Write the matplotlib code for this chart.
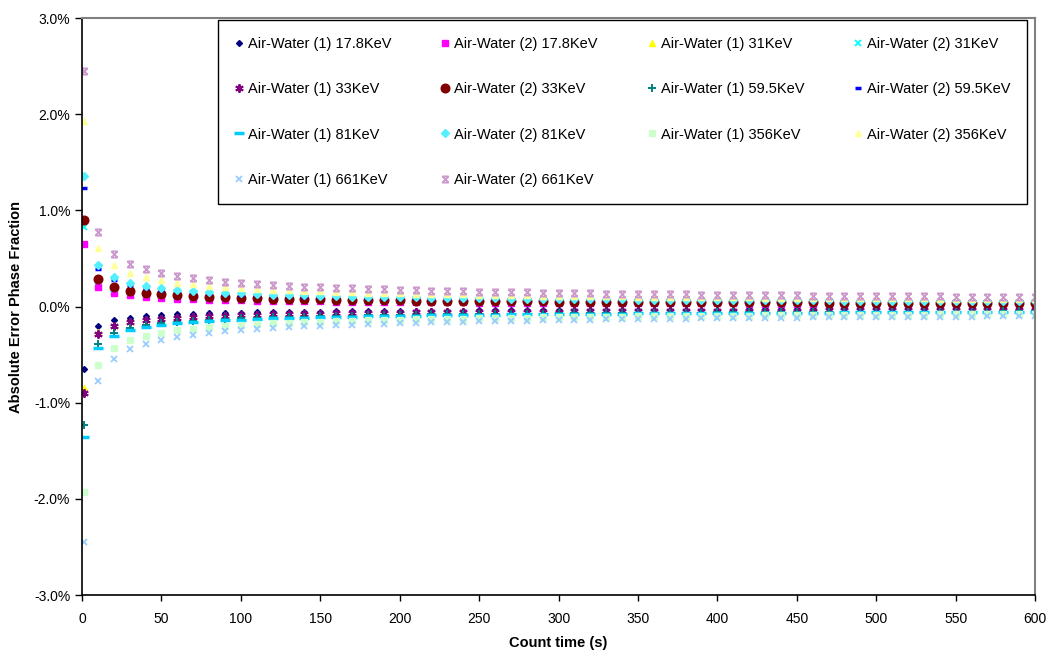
import numpy as np
import matplotlib.pyplot as plt
from matplotlib.path import Path
from matplotlib.ticker import FuncFormatter, MultipleLocator

plt.rcParams['font.family'] = ['Liberation Sans', 'DejaVu Sans']

# tempos de contagem (s)
count_time = [1] + list(range(10, 610, 10))

# erro absoluto (%) - série (1) negativa, série (2) positiva
aw1_17_8 = [-0.645, -0.204, -0.144, -0.118, -0.102, -0.091, -0.083, -0.077, -0.072, -0.068,
            -0.065, -0.062, -0.059, -0.057, -0.055, -0.053, -0.051, -0.049, -0.048, -0.047,
            -0.046, -0.045, -0.043, -0.043, -0.042, -0.041, -0.040, -0.039, -0.039, -0.038,
            -0.037, -0.037, -0.036, -0.036, -0.035, -0.034, -0.034, -0.034, -0.033, -0.033,
            -0.032, -0.032, -0.031, -0.031, -0.031, -0.030, -0.030, -0.030, -0.029, -0.029,
            -0.029, -0.029, -0.028, -0.028, -0.028, -0.028, -0.027, -0.027, -0.027, -0.027,
            -0.026]
aw2_17_8 = [0.645, 0.204, 0.144, 0.118, 0.102, 0.091, 0.083, 0.077, 0.072, 0.068,
            0.065, 0.062, 0.059, 0.057, 0.055, 0.053, 0.051, 0.049, 0.048, 0.047,
            0.046, 0.045, 0.043, 0.043, 0.042, 0.041, 0.040, 0.039, 0.039, 0.038,
            0.037, 0.037, 0.036, 0.036, 0.035, 0.034, 0.034, 0.034, 0.033, 0.033,
            0.032, 0.032, 0.031, 0.031, 0.031, 0.030, 0.030, 0.030, 0.029, 0.029,
            0.029, 0.029, 0.028, 0.028, 0.028, 0.028, 0.027, 0.027, 0.027, 0.027,
            0.026]
aw1_31 = [-0.850, -0.269, -0.190, -0.155, -0.134, -0.120, -0.110, -0.102, -0.095, -0.090,
          -0.085, -0.081, -0.078, -0.075, -0.072, -0.069, -0.067, -0.065, -0.063, -0.062,
          -0.060, -0.059, -0.057, -0.056, -0.055, -0.054, -0.053, -0.052, -0.051, -0.050,
          -0.049, -0.048, -0.048, -0.047, -0.046, -0.045, -0.045, -0.044, -0.044, -0.043,
          -0.043, -0.042, -0.041, -0.041, -0.041, -0.040, -0.040, -0.039, -0.039, -0.038,
          -0.038, -0.038, -0.037, -0.037, -0.037, -0.036, -0.036, -0.036, -0.035, -0.035,
          -0.035]
aw2_31 = [0.830, 0.263, 0.186, 0.152, 0.131, 0.117, 0.107, 0.099, 0.093, 0.087,
          0.083, 0.079, 0.076, 0.073, 0.070, 0.068, 0.066, 0.064, 0.062, 0.060,
          0.059, 0.057, 0.056, 0.055, 0.054, 0.052, 0.051, 0.051, 0.050, 0.049,
          0.048, 0.047, 0.046, 0.046, 0.045, 0.044, 0.044, 0.043, 0.043, 0.042,
          0.042, 0.041, 0.041, 0.040, 0.040, 0.039, 0.039, 0.038, 0.038, 0.037,
          0.037, 0.037, 0.036, 0.036, 0.036, 0.035, 0.035, 0.035, 0.034, 0.034,
          0.034]
aw1_33 = [-0.895, -0.283, -0.200, -0.163, -0.142, -0.127, -0.116, -0.107, -0.100, -0.094,
          -0.090, -0.085, -0.082, -0.079, -0.076, -0.073, -0.071, -0.069, -0.067, -0.065,
          -0.063, -0.062, -0.060, -0.059, -0.058, -0.057, -0.056, -0.054, -0.053, -0.053,
          -0.052, -0.051, -0.050, -0.049, -0.049, -0.048, -0.047, -0.047, -0.046, -0.045,
          -0.045, -0.044, -0.044, -0.043, -0.043, -0.042, -0.042, -0.041, -0.041, -0.040,
          -0.040, -0.040, -0.039, -0.039, -0.039, -0.038, -0.038, -0.037, -0.037, -0.037,
          -0.037]
aw2_33 = [0.895, 0.283, 0.200, 0.163, 0.142, 0.127, 0.116, 0.107, 0.100, 0.094,
          0.090, 0.085, 0.082, 0.079, 0.076, 0.073, 0.071, 0.069, 0.067, 0.065,
          0.063, 0.062, 0.060, 0.059, 0.058, 0.057, 0.056, 0.054, 0.053, 0.053,
          0.052, 0.051, 0.050, 0.049, 0.049, 0.048, 0.047, 0.047, 0.046, 0.045,
          0.045, 0.044, 0.044, 0.043, 0.043, 0.042, 0.042, 0.041, 0.041, 0.040,
          0.040, 0.040, 0.039, 0.039, 0.039, 0.038, 0.038, 0.037, 0.037, 0.037,
          0.037]
aw1_59_5 = [-1.235, -0.391, -0.276, -0.225, -0.195, -0.175, -0.159, -0.148, -0.138, -0.130,
            -0.124, -0.118, -0.113, -0.108, -0.104, -0.101, -0.098, -0.095, -0.092, -0.090,
            -0.087, -0.085, -0.083, -0.081, -0.080, -0.078, -0.077, -0.075, -0.074, -0.073,
            -0.071, -0.070, -0.069, -0.068, -0.067, -0.066, -0.065, -0.064, -0.063, -0.063,
            -0.062, -0.061, -0.060, -0.060, -0.059, -0.058, -0.058, -0.057, -0.056, -0.056,
            -0.055, -0.055, -0.054, -0.054, -0.053, -0.053, -0.052, -0.052, -0.051, -0.051,
            -0.050]
aw2_59_5 = [1.235, 0.391, 0.276, 0.225, 0.195, 0.175, 0.159, 0.148, 0.138, 0.130,
            0.124, 0.118, 0.113, 0.108, 0.104, 0.101, 0.098, 0.095, 0.092, 0.090,
            0.087, 0.085, 0.083, 0.081, 0.080, 0.078, 0.077, 0.075, 0.074, 0.073,
            0.071, 0.070, 0.069, 0.068, 0.067, 0.066, 0.065, 0.064, 0.063, 0.063,
            0.062, 0.061, 0.060, 0.060, 0.059, 0.058, 0.058, 0.057, 0.056, 0.056,
            0.055, 0.055, 0.054, 0.054, 0.053, 0.053, 0.052, 0.052, 0.051, 0.051,
            0.050]
aw1_81 = [-1.355, -0.428, -0.303, -0.247, -0.214, -0.192, -0.175, -0.162, -0.151, -0.143,
          -0.136, -0.129, -0.124, -0.119, -0.115, -0.111, -0.107, -0.104, -0.101, -0.098,
          -0.096, -0.094, -0.091, -0.089, -0.087, -0.086, -0.084, -0.082, -0.081, -0.080,
          -0.078, -0.077, -0.076, -0.075, -0.073, -0.072, -0.071, -0.070, -0.070, -0.069,
          -0.068, -0.067, -0.066, -0.065, -0.065, -0.064, -0.063, -0.063, -0.062, -0.061,
          -0.061, -0.060, -0.059, -0.059, -0.058, -0.058, -0.057, -0.057, -0.056, -0.056,
          -0.055]
aw2_81 = [1.355, 0.428, 0.303, 0.247, 0.214, 0.192, 0.175, 0.162, 0.151, 0.143,
          0.136, 0.129, 0.124, 0.119, 0.115, 0.111, 0.107, 0.104, 0.101, 0.098,
          0.096, 0.094, 0.091, 0.089, 0.087, 0.086, 0.084, 0.082, 0.081, 0.080,
          0.078, 0.077, 0.076, 0.075, 0.073, 0.072, 0.071, 0.070, 0.070, 0.069,
          0.068, 0.067, 0.066, 0.065, 0.065, 0.064, 0.063, 0.063, 0.062, 0.061,
          0.061, 0.060, 0.059, 0.059, 0.058, 0.058, 0.057, 0.057, 0.056, 0.056,
          0.055]
aw1_356 = [-1.930, -0.610, -0.432, -0.352, -0.305, -0.273, -0.249, -0.231, -0.216, -0.203,
           -0.193, -0.184, -0.176, -0.169, -0.163, -0.158, -0.153, -0.148, -0.144, -0.140,
           -0.136, -0.133, -0.130, -0.127, -0.125, -0.122, -0.120, -0.117, -0.115, -0.113,
           -0.111, -0.110, -0.108, -0.106, -0.105, -0.103, -0.102, -0.100, -0.099, -0.098,
           -0.097, -0.095, -0.094, -0.093, -0.092, -0.091, -0.090, -0.089, -0.088, -0.087,
           -0.086, -0.085, -0.085, -0.084, -0.083, -0.082, -0.082, -0.081, -0.080, -0.079,
           -0.079]
aw2_356 = [1.930, 0.610, 0.432, 0.352, 0.305, 0.273, 0.249, 0.231, 0.216, 0.203,
           0.193, 0.184, 0.176, 0.169, 0.163, 0.158, 0.153, 0.148, 0.144, 0.140,
           0.136, 0.133, 0.130, 0.127, 0.125, 0.122, 0.120, 0.117, 0.115, 0.113,
           0.111, 0.110, 0.108, 0.106, 0.105, 0.103, 0.102, 0.100, 0.099, 0.098,
           0.097, 0.095, 0.094, 0.093, 0.092, 0.091, 0.090, 0.089, 0.088, 0.087,
           0.086, 0.085, 0.085, 0.084, 0.083, 0.082, 0.082, 0.081, 0.080, 0.079,
           0.079]
aw1_661 = [-2.450, -0.775, -0.548, -0.447, -0.387, -0.346, -0.316, -0.293, -0.274, -0.258,
           -0.245, -0.234, -0.224, -0.215, -0.207, -0.200, -0.194, -0.188, -0.183, -0.178,
           -0.173, -0.169, -0.165, -0.162, -0.158, -0.155, -0.152, -0.149, -0.146, -0.144,
           -0.141, -0.139, -0.137, -0.135, -0.133, -0.131, -0.129, -0.127, -0.126, -0.124,
           -0.123, -0.121, -0.120, -0.118, -0.117, -0.115, -0.114, -0.113, -0.112, -0.111,
           -0.110, -0.108, -0.107, -0.106, -0.105, -0.104, -0.104, -0.103, -0.102, -0.101,
           -0.100]
aw2_661 = [2.450, 0.775, 0.548, 0.447, 0.387, 0.346, 0.316, 0.293, 0.274, 0.258,
           0.245, 0.234, 0.224, 0.215, 0.207, 0.200, 0.194, 0.188, 0.183, 0.178,
           0.173, 0.169, 0.165, 0.162, 0.158, 0.155, 0.152, 0.149, 0.146, 0.144,
           0.141, 0.139, 0.137, 0.135, 0.133, 0.131, 0.129, 0.127, 0.126, 0.124,
           0.123, 0.121, 0.120, 0.118, 0.117, 0.115, 0.114, 0.113, 0.112, 0.111,
           0.110, 0.108, 0.107, 0.106, 0.105, 0.104, 0.104, 0.103, 0.102, 0.101,
           0.100]

# marcador "x" com barras em cima e embaixo
ampulheta = Path([(-1, -1), (1, 1), (-1, 1), (1, -1), (-1, 1), (1, 1), (-1, -1), (1, -1)],
                 [Path.MOVETO, Path.LINETO, Path.MOVETO, Path.LINETO,
                  Path.MOVETO, Path.LINETO, Path.MOVETO, Path.LINETO])

# (rótulo, dados, marcador, cor, tamanho, espessura)
series = [
    ('Air-Water (1) 17.8KeV', aw1_17_8, 'D', '#000080', 3.0, 1.0),
    ('Air-Water (2) 17.8KeV', aw2_17_8, 's', '#FF00FF', 4.0, 1.0),
    ('Air-Water (1) 31KeV', aw1_31, '^', '#FFFF00', 5.0, 1.0),
    ('Air-Water (2) 31KeV', aw2_31, 'x', '#00FFFF', 5.0, 1.3),
    ('Air-Water (1) 33KeV', aw1_33, (6, 2, 0), '#800080', 6.0, 1.4),
    ('Air-Water (2) 33KeV', aw2_33, 'o', '#800000', 6.2, 1.0),
    ('Air-Water (1) 59.5KeV', aw1_59_5, '+', '#008080', 6.0, 1.4),
    ('Air-Water (2) 59.5KeV', aw2_59_5, '_', '#0000FF', 5.0, 2.5),
    ('Air-Water (1) 81KeV', aw1_81, '_', '#00CCFF', 7.5, 2.5),
    ('Air-Water (2) 81KeV', aw2_81, 'D', '#55F0FF', 3.6, 1.0),
    ('Air-Water (1) 356KeV', aw1_356, 's', '#CCFFCC', 4.0, 1.0),
    ('Air-Water (2) 356KeV', aw2_356, '^', '#FFFF99', 5.0, 1.0),
    ('Air-Water (1) 661KeV', aw1_661, 'x', '#99CCFF', 4.5, 1.3),
    ('Air-Water (2) 661KeV', aw2_661, ampulheta, '#CC99CC', 4.5, 1.3),
]

fig = plt.figure(figsize=(10.49, 6.5), dpi=100)
ax = fig.add_axes([0.0782, 0.0846, 0.9085, 0.8877])

handles = []
for rotulo, dados, marc, cor, tam, esp in series:
    h, = ax.plot(count_time, dados, linestyle='none', marker=marc, color=cor,
                 markerfacecolor=cor, markeredgecolor=cor, markersize=tam,
                 markeredgewidth=esp, label=rotulo)
    handles.append(h)

ax.set_xlim(0, 600)
ax.set_ylim(-3.0, 3.0)
ax.xaxis.set_major_locator(MultipleLocator(50))
ax.yaxis.set_major_locator(MultipleLocator(1.0))
ax.yaxis.set_major_formatter(FuncFormatter(lambda v, p: '%.1f%%' % v))
ax.tick_params(direction='out', width=1, labelsize=10, colors='black')
ax.tick_params(axis='x', length=4, pad=8)
ax.tick_params(axis='y', length=5, pad=3.5)

for lado in ['top', 'right']:
    ax.spines[lado].set_color('#808080')
    ax.spines[lado].set_linewidth(1.5)
for lado in ['left', 'bottom']:
    ax.spines[lado].set_color('black')
    ax.spines[lado].set_linewidth(1.2)

ax.set_xlabel('Count time (s)', fontweight='bold', fontsize=10.5)
ax.set_ylabel('Absolute Error Phase Fraction', fontweight='bold', fontsize=10.5)
ax.xaxis.set_label_coords(0.5, -0.071)
ax.yaxis.set_label_coords(-0.062, 0.5)

# legenda em 4 colunas preenchidas por linha
ordem = [0, 4, 8, 12, 1, 5, 9, 13, 2, 6, 10, 3, 7, 11]
leg = ax.legend([handles[i] for i in ordem], [series[i][0] for i in ordem],
                ncol=4, loc='upper left', bbox_to_anchor=(0.1427, 0.681, 0.849, 0.3155),
                mode='expand', fontsize=10.5, handlelength=0.6, handletextpad=0.3,
                labelspacing=2.15, borderpad=1.15, fancybox=False, framealpha=1,
                edgecolor='black', borderaxespad=0)
leg.get_frame().set_linewidth(1.0)

plt.savefig('out.png', dpi=100)
